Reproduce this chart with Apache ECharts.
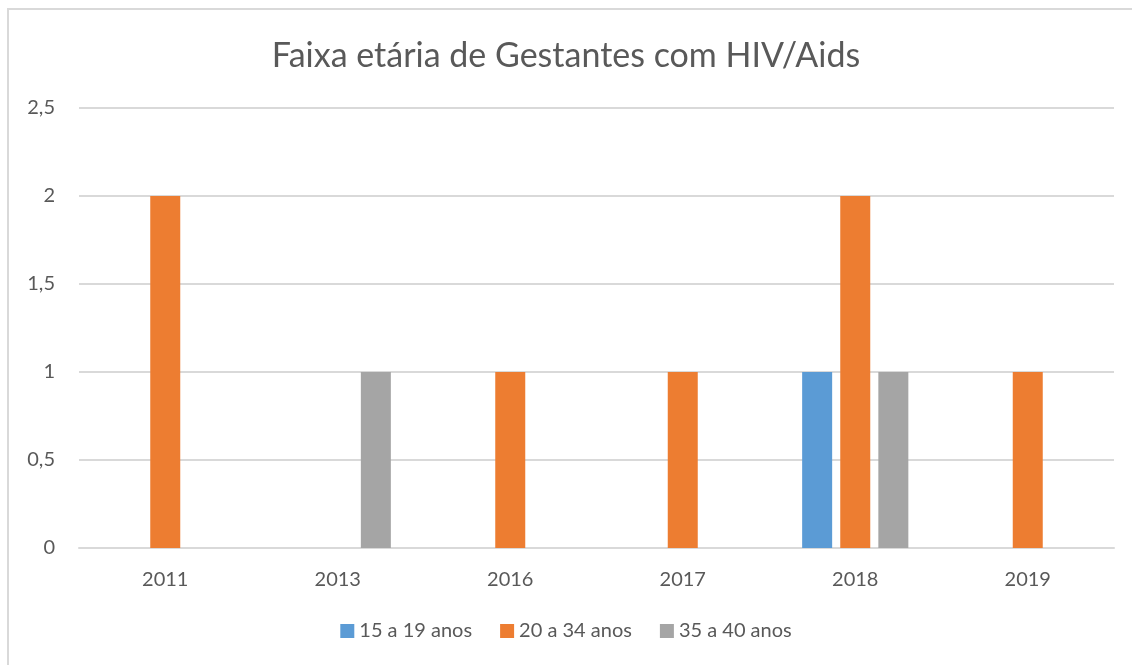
<!DOCTYPE html>
<html>
<head>
<meta charset="utf-8">
<script src="https://cdn.jsdelivr.net/npm/echarts@6/dist/echarts.min.js"></script>
<style>
  html, body { margin: 0; padding: 0; background: #fff; }
  #chart { width: 1132px; height: 665px; }
</style>
</head>
<body>
<div id="chart"></div>
<script>
// Faixa etária de Gestantes com HIV/Aids - grouped bars

const years = ['2011', '2013', '2016', '2017', '2018', '2019'];
const age15to19 = [null, null, null, null, 1, null];
const age20to34 = [2, null, 1, 1, 2, 1];
const age35to40 = [null, 1, null, null, 1, null];
const yTicks = [0, 0.5, 1, 1.5, 2, 2.5];

const textColor = '#595959';
const fontName = 'Lato';

const chart = echarts.init(document.getElementById('chart'));

chart.setOption({
  animation: false,
  backgroundColor: '#fff',
  title: {
    text: 'Faixa etária de Gestantes com HIV/Aids',
    left: 'center',
    top: 34,
    textStyle: { fontFamily: fontName, fontSize: 34, fontWeight: 'normal', color: textColor }
  },
  legend: {
    bottom: 19,
    left: 'center',
    itemWidth: 14,
    itemHeight: 14,
    itemGap: 28,
    icon: 'rect',
    textStyle: { fontFamily: fontName, fontSize: 20, color: textColor }
  },
  grid: { left: 79, right: 18, top: 108, bottom: 117 },
  xAxis: {
    type: 'category',
    data: years,
    axisTick: { show: false },
    axisLine: { lineStyle: { color: '#d9d9d9', width: 2 } },
    axisLabel: { fontFamily: fontName, fontSize: 20, color: textColor, margin: 22 }
  },
  yAxis: {
    type: 'value',
    min: yTicks[0],
    max: yTicks[yTicks.length - 1],
    interval: 0.5,
    axisLine: { show: false },
    axisTick: { show: false },
    splitLine: { lineStyle: { color: '#d9d9d9', width: 2 } },
    axisLabel: {
      fontFamily: fontName, fontSize: 20, color: textColor, margin: 24,
      formatter: function (v) { return String(v).replace('.', ','); }
    }
  },
  graphic: [{
    type: 'rect',
    shape: { x: 8, y: 9, width: 1140, height: 680 },
    style: { fill: 'none', stroke: '#d9d9d9', lineWidth: 2 },
    silent: true
  }],
  series: [
    { name: '15 a 19 anos', type: 'bar', data: age15to19, barWidth: 30, barGap: '27%',
      itemStyle: { color: '#5b9bd5' } },
    { name: '20 a 34 anos', type: 'bar', data: age20to34, barWidth: 30, barGap: '27%',
      itemStyle: { color: '#ed7d31' } },
    { name: '35 a 40 anos', type: 'bar', data: age35to40, barWidth: 30, barGap: '27%',
      itemStyle: { color: '#a5a5a5' } }
  ]
});
</script>
</body>
</html>
